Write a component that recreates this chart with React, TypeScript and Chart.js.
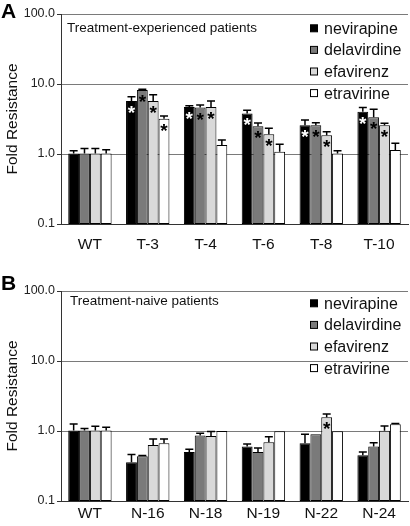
import React, { useEffect, useRef } from 'react';
import { Chart, registerables } from 'chart.js';

Chart.register(...registerables);

const FONT = "Arial, 'Liberation Sans', Helvetica, sans-serif";

const seriesNames = ['nevirapine', 'delavirdine', 'efavirenz', 'etravirine'];
const seriesColors = ['#000000', '#7a7a7a', '#d9d9d9', '#ffffff'];
const starColors = ['#ffffff', '#000000', '#000000', '#000000'];
const yTickValues = [0.1, 1, 10, 100];

// Panel A: treatment-experienced
const categoriesA = ['WT', 'T-3', 'T-4', 'T-6', 'T-8', 'T-10'];
const nevA = [1.02, 5.7, 4.7, 3.8, 2.57, 4.0];
const delA = [1.02, 8.2, 4.6, 2.5, 2.57, 3.34];
const efaA = [1.02, 5.7, 4.7, 1.91, 1.85, 2.57];
const etrA = [1.02, 3.2, 1.34, 1.08, 1.02, 1.14];
const nevErrA = [1.11, 6.6, 4.9, 4.2, 3.06, 4.6];
const delErrA = [1.2, 8.4, 5.0, 2.77, 2.8, 4.35];
const efaErrA = [1.2, 7.0, 5.7, 2.33, 2.08, 2.74];
const etrErrA = [1.15, 3.5, 1.58, 1.38, 1.11, 1.42];
const nevSigA = [0, 1, 1, 1, 1, 1];
const delSigA = [0, 1, 1, 1, 1, 1];
const efaSigA = [0, 1, 1, 1, 1, 1];
const etrSigA = [0, 1, 0, 0, 0, 0];

// Panel B: treatment-naive
const categoriesB = ['WT', 'N-16', 'N-18', 'N-19', 'N-22', 'N-24'];
const nevB = [1.02, 0.357, 0.5, 0.6, 0.67, 0.45];
const delB = [1.02, 0.435, 0.86, 0.5, 0.9, 0.6];
const efaB = [1.02, 0.63, 0.85, 0.69, 1.57, 1.01];
const etrB = [1.02, 0.67, 1.0, 0.99, 0.99, 1.25];
const nevErrB = [1.26, 0.46, 0.55, 0.65, 0.9, 0.5];
const delErrB = [1.09, 0.445, 0.93, 0.57, 0.9, 0.68];
const efaErrB = [1.17, 0.77, 0.98, 0.83, 1.75, 1.18];
const etrErrB = [1.13, 0.77, 1.0, 1.0, 1.0, 1.28];
const nevSigB = [0, 0, 0, 0, 0, 0];
const delSigB = [0, 0, 0, 0, 0, 0];
const efaSigB = [0, 0, 0, 0, 1, 0];
const etrSigB = [0, 0, 0, 0, 0, 0];

type PanelProps = {
  top: number;
  letter: string;
  letterY: number;
  subtitle: string;
  subtitleX: number;
  subtitleY: number;
  legendY: number;
  padTop: number;
  xAxisHeight: number;
  xLabelPad: number;
  categories: string[];
  values: number[][];
  errors: number[][];
  sig: number[][];
};

function Panel(p: PanelProps) {
  const ref = useRef<HTMLCanvasElement>(null);
  useEffect(() => {
    const canvas = ref.current;
    if (!canvas) return;
    const overlay = {
      id: 'overlay',
      afterDatasetsDraw(chart: any) {
        const ctx = chart.ctx;
        const yScale = chart.scales.y;
        ctx.save();
        p.values.forEach((_, i) => {
          const meta = chart.getDatasetMeta(i);
          meta.data.forEach((el: any, j: number) => {
            const x = el.x;
            const top = el.y;
            const ey = yScale.getPixelForValue(p.errors[i][j]);
            if (ey < top - 0.5) {
              ctx.strokeStyle = '#000';
              ctx.lineWidth = 1.5;
              ctx.beginPath();
              ctx.moveTo(x, top);
              ctx.lineTo(x, ey);
              ctx.moveTo(x - 4, ey);
              ctx.lineTo(x + 4, ey);
              ctx.stroke();
            }
            if (p.sig[i][j]) {
              ctx.fillStyle = starColors[i];
              ctx.font = 'bold 19px ' + FONT;
              ctx.textAlign = 'center';
              ctx.textBaseline = 'alphabetic';
              ctx.fillText('*', x, top + 18);
            }
          });
        });
        ctx.restore();
      },
      afterDraw(chart: any) {
        const ctx = chart.ctx;
        ctx.save();
        ctx.fillStyle = '#000';
        ctx.font = 'bold 21px ' + FONT;
        ctx.textAlign = 'left';
        ctx.textBaseline = 'alphabetic';
        ctx.fillText(p.letter, 1, p.letterY);
        ctx.font = '13.5px ' + FONT;
        ctx.textBaseline = 'middle';
        ctx.fillStyle = '#111';
        ctx.fillText(p.subtitle, p.subtitleX, p.subtitleY);
        seriesNames.forEach((name, k) => {
          const y = p.legendY + k * 21.6;
          ctx.fillStyle = seriesColors[k];
          ctx.fillRect(310.5, y - 3.5, 7, 7);
          ctx.strokeStyle = '#000';
          ctx.lineWidth = 1;
          ctx.strokeRect(310.5, y - 3.5, 7, 7);
          ctx.fillStyle = '#111';
          ctx.font = '16px ' + FONT;
          ctx.textBaseline = 'middle';
          ctx.fillText(name, 324, y + 1);
        });
        ctx.restore();
      },
    };
    const chart = new Chart(canvas, {
      type: 'bar',
      data: {
        labels: p.categories,
        datasets: p.values.map((vals, i) => ({
          label: seriesNames[i],
          data: vals,
          backgroundColor: seriesColors[i],
          borderColor: '#000',
          borderWidth: 1,
          borderSkipped: false,
          categoryPercentage: 0.75,
          barPercentage: 1.0,
        })),
      },
      options: {
        responsive: false,
        animation: false,
        layout: { padding: { top: p.padTop, right: 2, left: 0, bottom: 0 } },
        plugins: { legend: { display: false }, tooltip: { enabled: false } },
        scales: {
          x: {
            type: 'category',
            grid: { display: false },
            border: { display: true, color: '#333', width: 1 },
            ticks: { font: { family: FONT, size: 15.5 }, color: '#111', padding: p.xLabelPad, maxRotation: 0 },
            afterFit(scale: any) {
              scale.height = p.xAxisHeight;
            },
          },
          y: {
            type: 'logarithmic',
            min: 0.1,
            max: 100,
            afterBuildTicks(scale: any) {
              scale.ticks = yTickValues.map((v) => ({ value: v }));
            },
            afterFit(scale: any) {
              scale.width = 61;
            },
            ticks: {
              font: { family: FONT, size: 12.5 },
              color: '#222',
              padding: 2,
              callback: (v: any) => Number(v).toFixed(1),
            },
            grid: { color: '#7a7a7a', lineWidth: 1, drawTicks: true, tickLength: 4, tickColor: '#333' },
            border: { display: true, color: '#333', width: 1 },
            title: {
              display: true,
              text: 'Fold Resistance',
              font: { family: FONT, size: 15.5 },
              color: '#111',
              padding: { top: 3.2, bottom: 0 },
            },
          },
        },
      },
      plugins: [overlay],
    } as any);
    return () => chart.destroy();
  }, []);
  return (
    <canvas
      ref={ref}
      width={410}
      height={263}
      style={{ position: 'absolute', left: 0, top: p.top, width: 410, height: 263 }}
    />
  );
}

export default function App() {
  return (
    <div style={{ position: 'absolute', left: 0, top: 0, width: 410, height: 526, background: '#fff' }}>
      <Panel
        top={0}
        letter="A"
        letterY={18}
        subtitle="Treatment-experienced patients"
        subtitleX={67}
        subtitleY={28}
        legendY={28.3}
        padTop={14}
        xAxisHeight={39}
        xLabelPad={3}
        categories={categoriesA}
        values={[nevA, delA, efaA, etrA]}
        errors={[nevErrA, delErrA, efaErrA, etrErrA]}
        sig={[nevSigA, delSigA, efaSigA, etrSigA]}
      />
      <Panel
        top={263}
        letter="B"
        letterY={27}
        subtitle="Treatment-naive patients"
        subtitleX={70}
        subtitleY={38.7}
        legendY={40.3}
        padTop={28}
        xAxisHeight={25}
        xLabelPad={-5}
        categories={categoriesB}
        values={[nevB, delB, efaB, etrB]}
        errors={[nevErrB, delErrB, efaErrB, etrErrB]}
        sig={[nevSigB, delSigB, efaSigB, etrSigB]}
      />
    </div>
  );
}
